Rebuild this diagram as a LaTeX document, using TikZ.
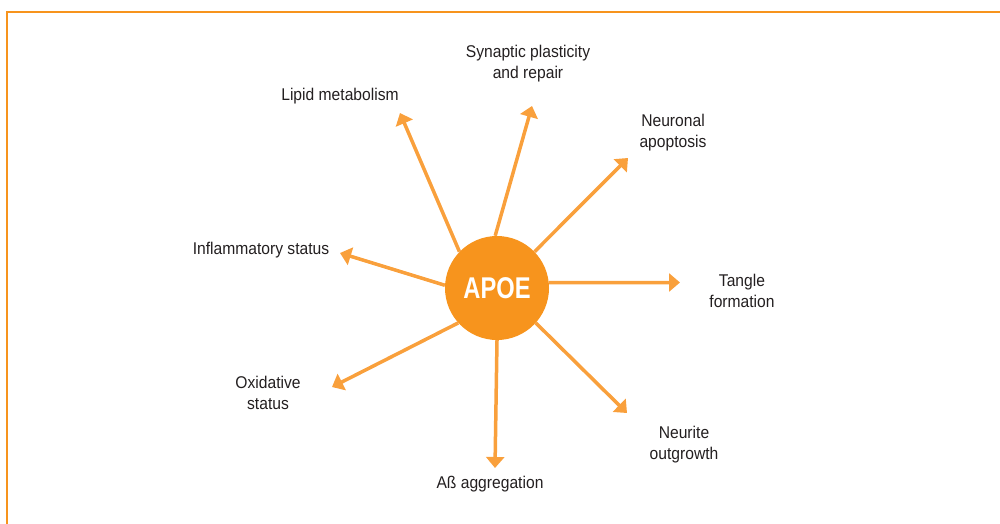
\documentclass[tikz,border=0pt]{standalone}
\usepackage{fontspec}
\setmainfont{Liberation Sans}
\newfontfamily\labfont[FakeStretch=0.92]{Liberation Sans}
\newfontfamily\apoefont[FakeStretch=0.79]{Liberation Sans}
\usetikzlibrary{arrows.meta}
\definecolor{apoeorange}{HTML}{F7941D}
\definecolor{arroworange}{HTML}{F9A03C}
\definecolor{labtext}{HTML}{231F20}
\tikzset{
  lab/.style={font=\labfont\fontsize{17}{21.5}\selectfont, align=center, anchor=base, inner sep=0pt, text=labtext},
  ray/.style={draw=arroworange, line width=3.5pt, -{Triangle[length=11pt,width=18pt]}},
  hub/.style={circle, fill=apoeorange, minimum size=104pt, inner sep=0pt, text=white,
    font=\apoefont\bfseries\fontsize{30}{30}\selectfont},
  frame/.style={draw=apoeorange, line width=2pt}
}
\begin{document}
\begin{tikzpicture}[x=1pt,y=-1pt]
\useasboundingbox (0,0) rectangle (1000,524);
\draw[frame] (7.3,524) -- (7.3,12.3) -- (1000,12.3);

\node[hub] (apoe) at (497,288) {APOE};

\node[lab] (lipid) at (340,101) {Lipid metabolism};
\node[lab] (syn) at (528,79) {Synaptic plasticity\\and repair};
\node[lab] (neur) at (673,147.5) {Neuronal\\apoptosis};
\node[lab] (tangle) at (742,307.5) {Tangle\\formation};
\node[lab] (neurite) at (684,459.5) {Neurite\\outgrowth};
\node[lab] (ab) at (490,488.5) {Aß aggregation};
\node[lab] (oxid) at (268,409.5) {Oxidative\\status};
\node[lab] (infl) at (261,254.5) {Inflammatory status};

\coordinate (tlipid) at (400,113);
\coordinate (tsyn) at (532,106);
\coordinate (tneur) at (628,158);
\coordinate (ttangle) at (680,282.5);
\coordinate (tneurite) at (627,413);
\coordinate (tab) at (495,468);
\coordinate (toxid) at (332,387);
\coordinate (tinfl) at (340,253);

\draw[ray] (apoe.136) -- (tlipid);
\draw[ray] (apoe.92) -- (tsyn);
\draw[ray] (apoe.44) -- (tneur);
\draw[ray] (apoe.6) -- (ttangle);
\draw[ray] (apoe.-42) -- (tneurite);
\draw[ray] (apoe.-90) -- (tab);
\draw[ray] (apoe.222) -- (toxid);
\draw[ray] (apoe.177) -- (tinfl);
\end{tikzpicture}
\end{document}
